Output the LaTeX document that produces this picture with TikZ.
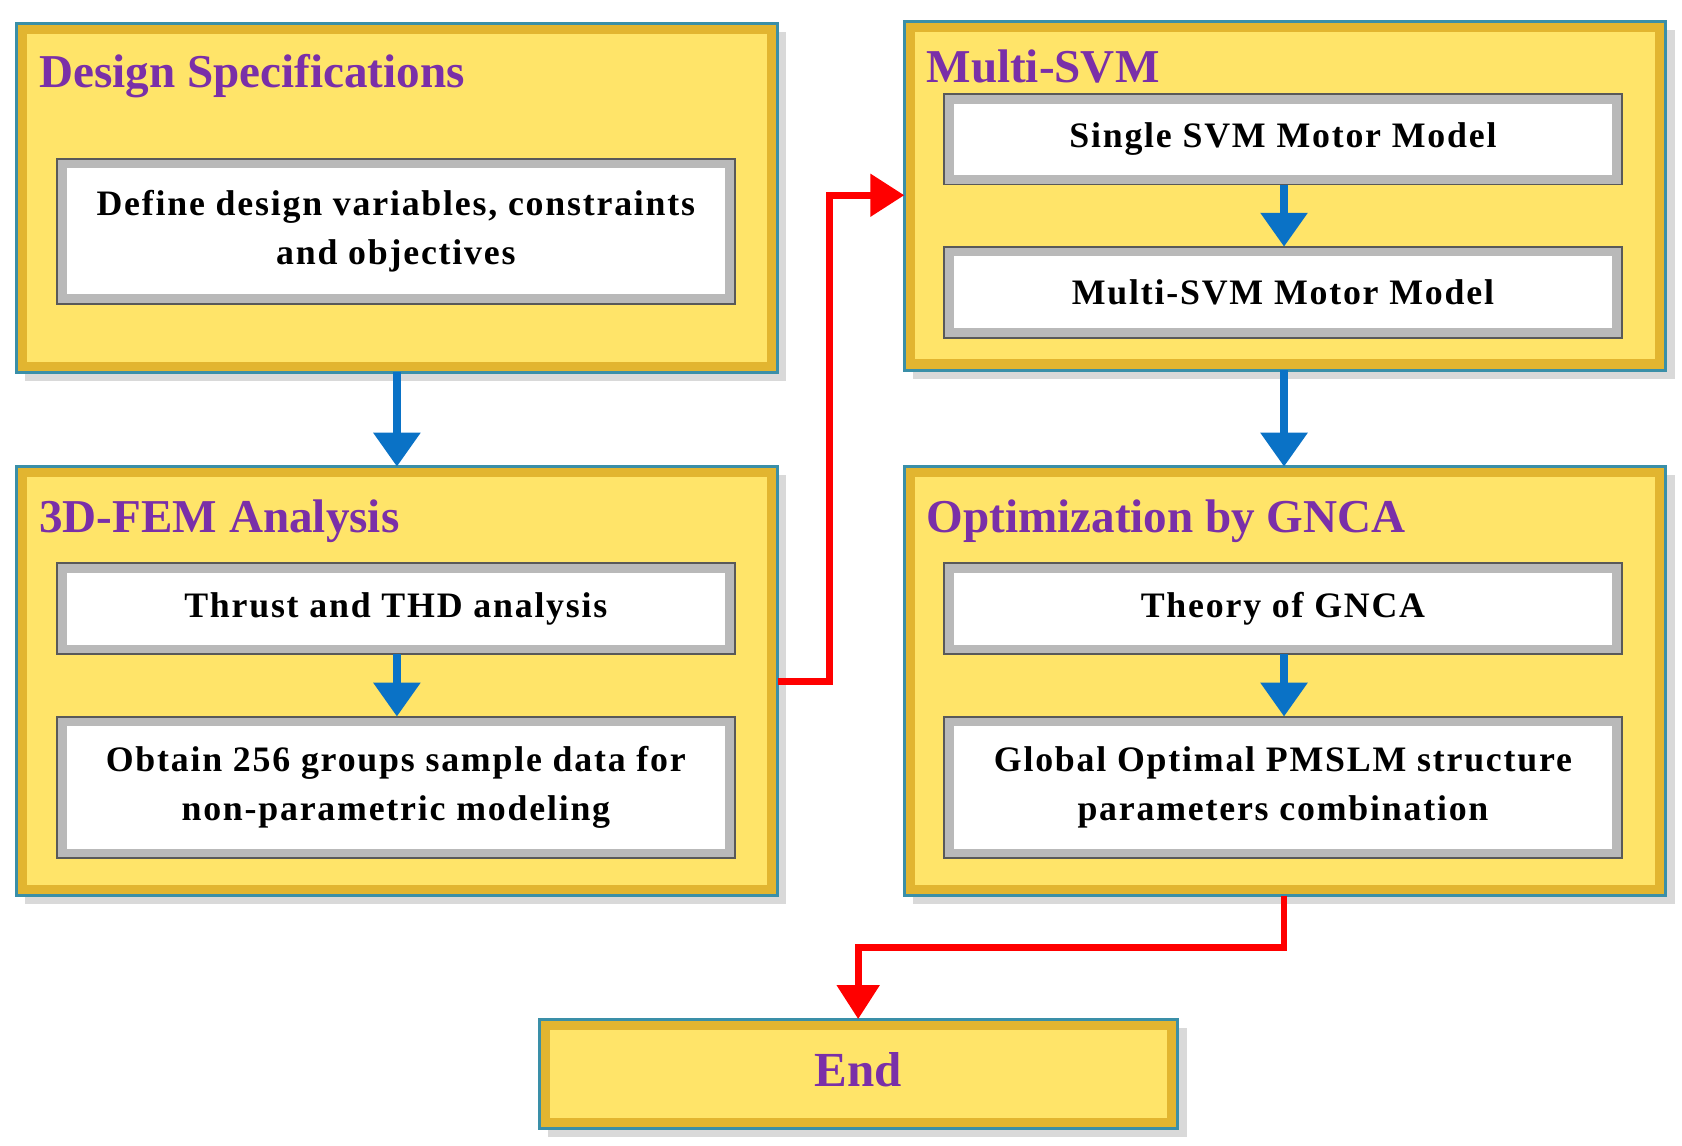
\documentclass[tikz,border=0pt]{standalone}
\usepackage{fontspec}
\setmainfont{Liberation Serif}
\usetikzlibrary{positioning,arrows.meta,shadows}
\definecolor{gold}{HTML}{E2B530}
\definecolor{ylw}{HTML}{FFE469}
\definecolor{ttl}{HTML}{7A2FA8}
\definecolor{bl}{HTML}{0A72C6}
\definecolor{edge}{HTML}{3A8FA8}
\tikzset{
 outer/.style={draw=edge,line width=0.8pt,fill=gold,drop shadow={opacity=0.3},
   path picture={\fill[ylw] ([shift={(0.1,-0.1)}]path picture bounding box.north west) rectangle ([shift={(-0.1,0.1)}]path picture bounding box.south east);}},
 inner/.style={draw=gray!70!black,line width=0.5pt,fill=gray!55,
   path picture={\fill[white] ([shift={(0.09,-0.09)}]path picture bounding box.north west) rectangle ([shift={(-0.09,0.09)}]path picture bounding box.south east);}},
 itxt/.style={font=\bfseries\fontsize{9.5}{13}\selectfont\addfontfeatures{LetterSpace=5},align=center},
 ttlf/.style={font=\bfseries\fontsize{12.5}{14}\selectfont,text=ttl,anchor=north west,inner sep=0},
 barr/.style={draw=bl,line width=2.2pt,-{Triangle[length=9pt,width=12pt]}},
 rarr/.style={draw=red,line width=1.8pt,-{Triangle[length=9pt,width=11pt]}}
}
\begin{document}
\begin{tikzpicture}
\useasboundingbox (0,0) rectangle (15.68,-10.68);
\path[outer] (0.15,-0.22) rectangle (7.25,-3.47);
\path[inner] (0.53,-1.48) rectangle (6.85,-2.83);
\node[itxt] (ds1) at (3.69,-2.155) {Define design variables, constraints\\and objectives};
\node[ttlf] (ds) at (0.36,-0.50) {Design Specifications};

\path[outer] (0.15,-4.35) rectangle (7.25,-8.35);
\path[inner] (0.53,-5.25) rectangle (6.85,-6.10);
\path[inner] (0.53,-6.68) rectangle (6.85,-8.00);
\node[itxt] (fe1) at (3.69,-5.675) {Thrust and THD analysis};
\node[itxt] (fe2) at (3.69,-7.34) {Obtain 256 groups sample data for\\non-parametric modeling};
\node[ttlf] (fe) at (0.36,-4.65) {3D-FEM Analysis};

\path[outer] (8.43,-0.20) rectangle (15.53,-3.45);
\path[inner] (8.80,-0.88) rectangle (15.12,-1.72);
\path[inner] (8.80,-2.30) rectangle (15.12,-3.15);
\node[itxt] (sv1) at (11.96,-1.30) {Single SVM Motor Model};
\node[itxt] (sv2) at (11.96,-2.725) {Multi-SVM Motor Model};
\node[ttlf] (sv) at (8.63,-0.46) {Multi-SVM};

\path[outer] (8.43,-4.35) rectangle (15.53,-8.35);
\path[inner] (8.80,-5.25) rectangle (15.12,-6.10);
\path[inner] (8.80,-6.68) rectangle (15.12,-8.00);
\node[itxt] (op1) at (11.96,-5.675) {Theory of GNCA};
\node[itxt] (op2) at (11.96,-7.34) {Global Optimal PMSLM structure\\parameters combination};
\node[ttlf] (op) at (8.63,-4.65) {Optimization by GNCA};

\path[outer] (5.03,-9.50) rectangle (10.98,-10.52);
\node[font=\bfseries\fontsize{13}{15}\selectfont,text=ttl] (end) at (8.0,-9.97) {End};

\coordinate (a1) at (3.7,-3.47); \coordinate (a2) at (3.7,-4.35);
\draw[barr] (a1) -- (a2);
\coordinate (b1) at (3.7,-6.10); \coordinate (b2) at (3.7,-6.68);
\draw[barr] (b1) -- (b2);
\coordinate (c1) at (11.97,-1.72); \coordinate (c2) at (11.97,-2.30);
\draw[barr] (c1) -- (c2);
\coordinate (d1) at (11.97,-3.45); \coordinate (d2) at (11.97,-4.35);
\draw[barr] (d1) -- (d2);
\coordinate (e1) at (11.97,-6.10); \coordinate (e2) at (11.97,-6.68);
\draw[barr] (e1) -- (e2);
\coordinate (r1) at (7.25,-6.35); \coordinate (r2) at (8.43,-1.82);
\draw[rarr] (r1) -- (7.73,-6.35) -- (7.73,-1.82) -- (r2);
\coordinate (s1) at (11.97,-8.35); \coordinate (s2) at (8.0,-9.50);
\draw[rarr] (s1) -- (11.97,-8.83) -- (8.0,-8.83) -- (s2);
\end{tikzpicture}
\end{document}
